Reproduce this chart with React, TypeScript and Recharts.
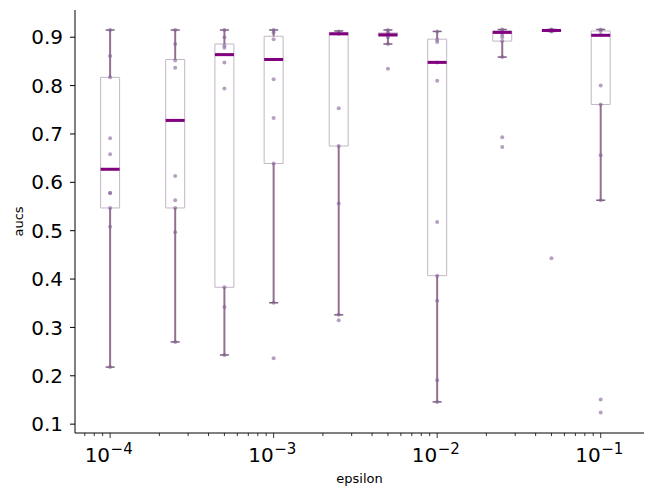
import React from "react";
import {
  ComposedChart,
  XAxis,
  YAxis,
  Scatter,
  ErrorBar,
  ReferenceArea,
  Label,
} from "recharts";

// epsilon values (one box per value)
const epsilons = [1e-4, 2.5e-4, 5e-4, 1e-3, 2.5e-3, 5e-3, 1e-2, 2.5e-2, 5e-2, 1e-1];

// box statistics
const whiskerLow = [0.218, 0.27, 0.243, 0.351, 0.326, 0.886, 0.146, 0.859, 0.912, 0.563];
const q1 = [0.547, 0.547, 0.383, 0.639, 0.675, 0.902, 0.407, 0.892, 0.912, 0.761];
const medians = [0.627, 0.728, 0.864, 0.854, 0.907, 0.905, 0.848, 0.91, 0.914, 0.904];
const q3 = [0.817, 0.854, 0.886, 0.902, 0.91, 0.909, 0.896, 0.913, 0.915, 0.913];
const whiskerHigh = [0.915, 0.915, 0.915, 0.915, 0.913, 0.915, 0.912, 0.916, 0.916, 0.916];

// individual runs drawn as dots
const stripValues = [
  [0.915, 0.861, 0.817, 0.691, 0.658, 0.578, 0.578, 0.547, 0.508, 0.218],
  [0.915, 0.886, 0.852, 0.837, 0.613, 0.563, 0.547, 0.497, 0.27],
  [0.915, 0.9, 0.883, 0.878, 0.848, 0.794, 0.383, 0.342, 0.243],
  [0.915, 0.91, 0.896, 0.813, 0.733, 0.639, 0.351, 0.236],
  [0.912, 0.908, 0.907, 0.753, 0.675, 0.556, 0.326, 0.315],
  [0.915, 0.91, 0.906, 0.904, 0.9, 0.886, 0.835],
  [0.912, 0.895, 0.89, 0.848, 0.81, 0.518, 0.407, 0.355, 0.191, 0.146],
  [0.916, 0.913, 0.91, 0.905, 0.9, 0.892, 0.859, 0.693, 0.673],
  [0.916, 0.915, 0.914, 0.913, 0.912, 0.443],
  [0.916, 0.913, 0.905, 0.8, 0.761, 0.656, 0.563, 0.151, 0.124],
];

const yTicks = [0.1, 0.2, 0.3, 0.4, 0.5, 0.6, 0.7, 0.8, 0.9];
const majorTicks = [1e-4, 1e-3, 1e-2, 1e-1];
const minorMultipliers = [2, 3, 4, 5, 6, 7, 8, 9];
const xTicks: number[] = [7e-5, 8e-5, 9e-5];
majorTicks.forEach((m) => {
  xTicks.push(m);
  if (m < 0.1) minorMultipliers.forEach((k) => xTicks.push(m * k));
});

const BOX_F = 1.143; // box half-width as a factor on the log axis
const FONT = "DejaVu Sans, sans-serif";

const boxRows = epsilons.map((eps, i) => ({ eps, y: medians[i] }));
const whiskerRows = epsilons.flatMap((eps, i) => [
  { eps, y: q3[i], err: [0, whiskerHigh[i] - q3[i]] },
  { eps, y: q1[i], err: [q1[i] - whiskerLow[i], 0] },
]);
const capRows = epsilons.flatMap((eps, i) => [
  { eps, y: whiskerHigh[i] },
  { eps, y: whiskerLow[i] },
]);
const stripRows = epsilons.flatMap((eps, i) =>
  stripValues[i].map((v) => ({ eps, y: v }))
);

const isPow10 = (v: number) => {
  const l = Math.log10(v);
  return Math.abs(l - Math.round(l)) < 1e-9;
};

const XTick = (props: any) => {
  const { x, y, payload } = props;
  const v = payload.value;
  if (!isPow10(v)) {
    return <line x1={x} x2={x} y1={y} y2={y + 3} stroke="#000" strokeWidth={0.8} />;
  }
  const exp = Math.round(Math.log10(v));
  return (
    <g>
      <line x1={x} x2={x} y1={y} y2={y + 5} stroke="#000" strokeWidth={0.8} />
      <text x={x} y={y + 29} textAnchor="end" fontSize={20} fill="#000" fontFamily={FONT}>
        10
      </text>
      <text x={x + 0.5} y={y + 21} textAnchor="start" fontSize={15} fill="#000" fontFamily={FONT}>
        {"\u2212" + Math.abs(exp)}
      </text>
    </g>
  );
};

const App = () => {
  return (
    <div style={{ position: "absolute", left: 0, top: 0, background: "#fff" }}>
      <ComposedChart
        width={653}
        height={496}
        margin={{ top: 10, right: 9, bottom: 0, left: 0 }}
        style={{ fontFamily: FONT }}
      >
        <XAxis
          dataKey="eps"
          type="number"
          scale="log"
          domain={[6.1e-5, 0.184]}
          allowDataOverflow
          ticks={xTicks}
          interval={0}
          tickSize={0}
          tickMargin={0}
          tickLine={false}
          tick={<XTick />}
          height={63}
          stroke="#000"
        >
          <Label
            content={(p: any) => {
              const vb = p.viewBox;
              return (
                <text
                  x={vb.x + vb.width / 2}
                  y={vb.y + 50}
                  textAnchor="middle"
                  fontSize={13}
                  fill="#000"
                  fontFamily={FONT}
                >
                  epsilon
                </text>
              );
            }}
          />
        </XAxis>
        <YAxis
          dataKey="y"
          type="number"
          domain={[0.0817, 0.9563]}
          allowDataOverflow
          ticks={yTicks}
          interval={0}
          tickSize={5}
          tickMargin={7}
          width={75}
          stroke="#000"
          tick={{ fill: "#000", fontSize: 20, fontFamily: FONT }}
          tickFormatter={(v: number) => v.toFixed(1)}
        >
          <Label
            content={(p: any) => {
              const vb = p.viewBox;
              const cy = vb.y + vb.height / 2;
              return (
                <text
                  x={18}
                  y={cy}
                  transform={`rotate(-90, 18, ${cy})`}
                  textAnchor="middle"
                  dominantBaseline="central"
                  fontSize={13}
                  fill="#000"
                  fontFamily={FONT}
                >
                  aucs
                </text>
              );
            }}
          />
        </YAxis>

        {epsilons.map((eps, i) => (
          <ReferenceArea
            key={"box" + i}
            x1={eps / BOX_F}
            x2={eps * BOX_F}
            y1={q1[i]}
            y2={q3[i]}
            fill="none"
            fillOpacity={0}
            stroke="#c4b6c4"
            strokeWidth={1}
            strokeOpacity={1}
            ifOverflow="visible"
          />
        ))}

        <Scatter
          data={whiskerRows}
          dataKey="y"
          isAnimationActive={false}
          shape={() => <g />}
        >
          <ErrorBar
            dataKey="err"
            direction="y"
            width={0}
            stroke="#94708f"
            strokeWidth={2}
            isAnimationActive={false}
          />
        </Scatter>

        <Scatter
          data={capRows}
          dataKey="y"
          isAnimationActive={false}
          shape={(p: any) => (
            <line
              x1={p.cx - 4.5}
              x2={p.cx + 4.5}
              y1={p.cy}
              y2={p.cy}
              stroke="#7d5f7d"
              strokeWidth={1.5}
            />
          )}
        />

        <Scatter
          data={stripRows}
          dataKey="y"
          isAnimationActive={false}
          shape={(p: any) => (
            <circle cx={p.cx} cy={p.cy} r={2} fill="#84609a" fillOpacity={0.6} />
          )}
        />

        <Scatter
          data={boxRows}
          dataKey="y"
          isAnimationActive={false}
          shape={(p: any) => (
            <rect x={p.cx - 9.5} y={p.cy - 1.5} width={19} height={3} fill="#800080" />
          )}
        />
      </ComposedChart>
    </div>
  );
};

export default App;
